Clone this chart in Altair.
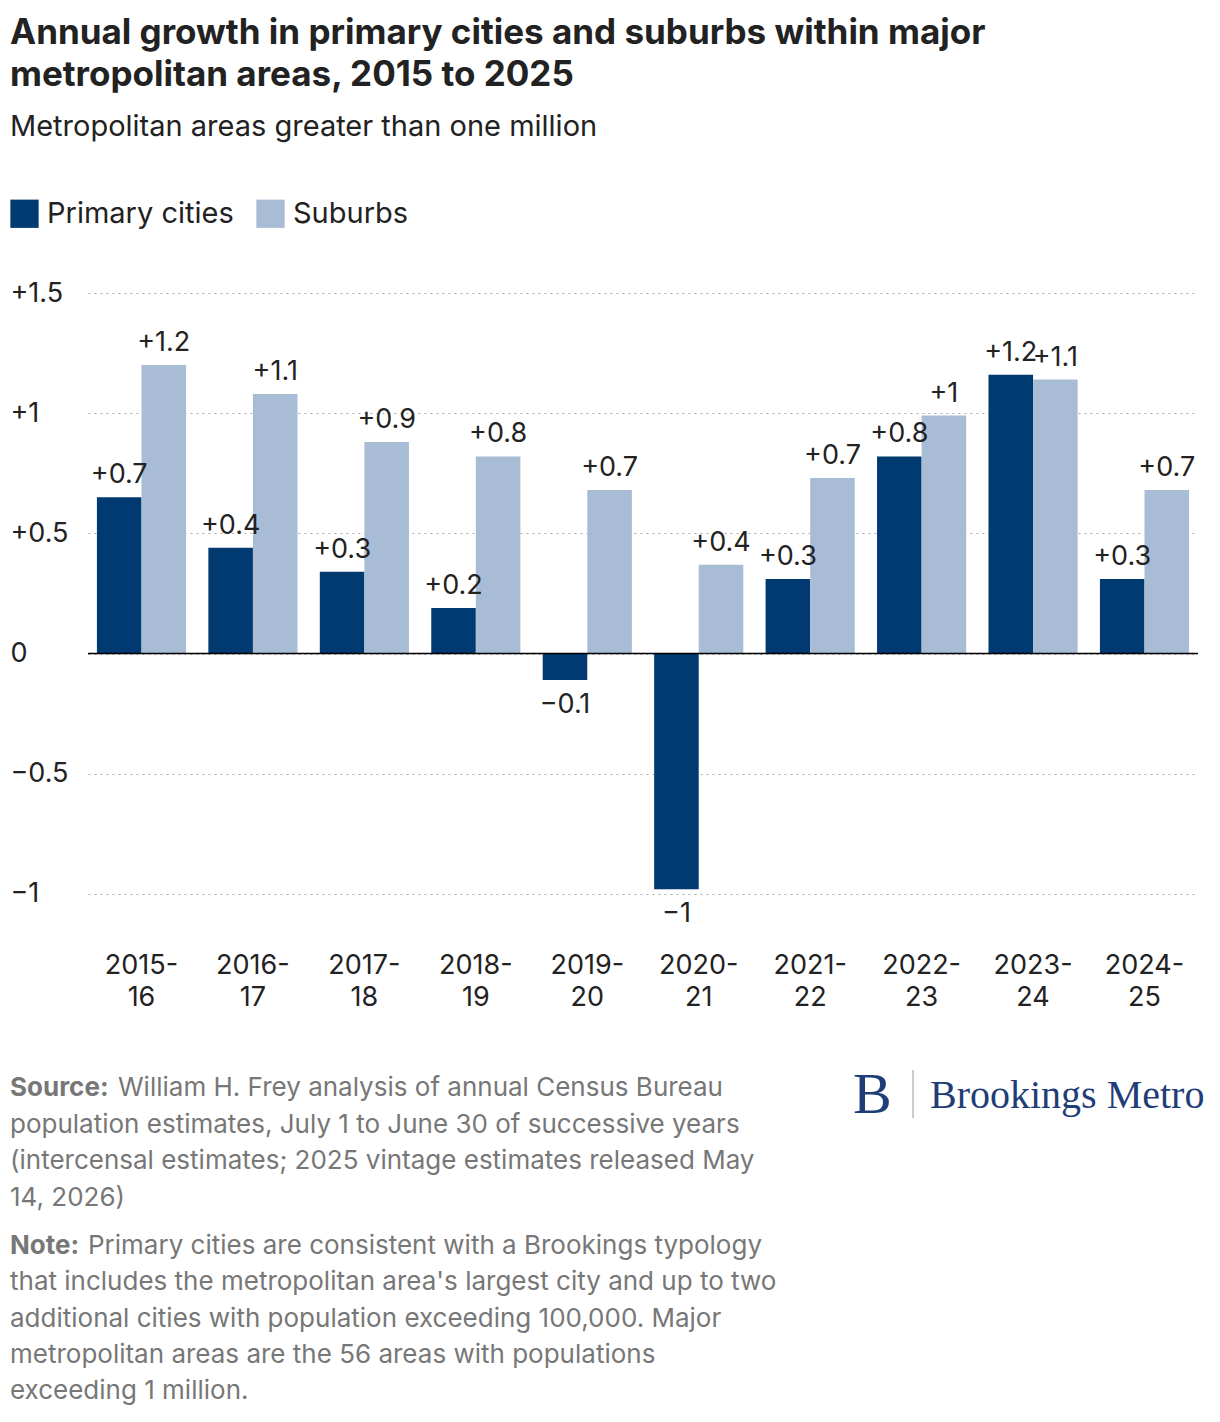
import altair as alt
import pandas as pd

periods = ["2015-16", "2016-17", "2017-18", "2018-19", "2019-20",
           "2020-21", "2021-22", "2022-23", "2023-24", "2024-25"]
primary = [0.65, 0.44, 0.34, 0.19, -0.11, -0.98, 0.31, 0.82, 1.16, 0.31]
suburbs = [1.20, 1.08, 0.88, 0.82, 0.68, 0.37, 0.73, 0.99, 1.14, 0.68]
series = ["Primary cities", "Suburbs"]
colors = ["#003a70", "#a9bcd6"]

rows = []
for p, a, b in zip(periods, primary, suburbs):
    for s, v in zip(series, [a, b]):
        r = round(v, 1)
        lab = ("+" if r > 0 else "") + (f"{r:g}".replace("-", "−"))
        rows.append({"period": p, "series": s, "value": v, "label": lab})
df = pd.DataFrame(rows)

FONT = "Inter"
W, H = 1110, 637

xenc = alt.X("period:N", sort=periods, title=None,
             axis=alt.Axis(labelExpr="[split(datum.label, '-')[0] + '-', split(datum.label, '-')[1]]",
                           labelLineHeight=32, ticks=False, domain=False, labelAngle=0,
                           labelFontSize=27, labelColor="#222", labelPadding=22,
                           labelBaseline="top"),
             scale=alt.Scale(paddingInner=0.2, paddingOuter=0.08))
yscale = alt.Scale(domain=[-1.15, 1.5], nice=False)

base = alt.Chart(df).encode(
    x=xenc,
    xOffset=alt.XOffset("series:N", sort=series),
)
bars = base.mark_bar().encode(
    y=alt.Y("value:Q", scale=yscale, title=None,
            axis=alt.Axis(values=[-1, -0.5, 0, 0.5, 1, 1.5],
                          labelExpr="datum.value > 0 ? format(datum.value, '+~g') : replace(format(datum.value, '~g'), '-', '−')",
                          grid=True, gridDash=[2, 4], gridColor="#aaa", ticks=False, domain=False,
                          labelFontSize=27, labelColor="#222", labelAlign="left", labelPadding=78)),
    color=alt.Color("series:N", sort=series, scale=alt.Scale(domain=series, range=colors),
                    legend=alt.Legend(orient="none", legendX=-78, legendY=-94,
                                      direction="horizontal", title=None,
                                      symbolType="square", symbolSize=800, symbolStrokeWidth=0,
                                      labelFontSize=29, labelColor="#222", labelLimit=300,
                                      columnPadding=22, labelOffset=8)),
)
pos_labels = base.transform_filter("datum.value >= 0").mark_text(
    baseline="bottom", dy=-8, fontSize=27, color="#222", font=FONT
).encode(y=alt.Y("value:Q", scale=yscale), text="label:N")
neg_labels = base.transform_filter("datum.value < 0").mark_text(
    baseline="top", dy=12, fontSize=27, color="#222", font=FONT
).encode(y=alt.Y("value:Q", scale=yscale), text="label:N")
zero = alt.Chart(pd.DataFrame({"z": [0]})).mark_rule(color="#000", strokeWidth=1.5).encode(
    y=alt.Y("z:Q", scale=yscale))

# footer text, positioned in pixels relative to the plot area
src_lines = ["William H. Frey analysis of annual Census Bureau",
             "population estimates, July 1 to June 30 of successive years",
             "(intercensal estimates; 2025 vintage estimates released May",
             "14, 2026)"]
note_lines = ["Primary cities are consistent with a Brookings typology",
              "that includes the metropolitan area's largest city and up to two",
              "additional cities with population exceeding 100,000. Major",
              "metropolitan areas are the 56 areas with populations",
              "exceeding 1 million."]
top = 795
foot = []
for i, t in enumerate(src_lines):
    foot.append({"t": t, "y": top + 36.5 * i, "x": -78 + (108 if i == 0 else 0)})
for i, t in enumerate(note_lines):
    foot.append({"t": t, "y": top + 158 + 36.3 * i, "x": -78 + (78 if i == 0 else 0)})
fdf = pd.DataFrame(foot)
bold = pd.DataFrame({"t": ["Source:", "Note:"], "y": [top, top + 158], "x": [-78, -78]})

ft = alt.Chart(fdf).mark_text(align="left", baseline="middle", fontSize=26, color="#777", font=FONT).encode(
    x=alt.X("x:Q", scale=None), y=alt.Y("y:Q", scale=None), text="t:N")
fb = alt.Chart(bold).mark_text(align="left", baseline="middle", fontSize=26, color="#777",
                               fontWeight="bold", font=FONT).encode(
    x=alt.X("x:Q", scale=None), y=alt.Y("y:Q", scale=None), text="t:N")
logo = pd.DataFrame({"t": ["B", "Brookings Metro"], "x": [765, 842], "y": [top + 8, top + 8], "s": [58, 40]})
fl = alt.Chart(logo).mark_text(align="left", baseline="middle", color="#1f3e78", font="Liberation Serif").encode(
    x=alt.X("x:Q", scale=None), y=alt.Y("y:Q", scale=None), text="t:N",
    size=alt.Size("s:Q", scale=None, legend=None))
sep = alt.Chart(pd.DataFrame({"x": [825], "y": [top - 18], "y2": [top + 30]})).mark_rule(color="#999").encode(
    x=alt.X("x:Q", scale=None), y=alt.Y("y:Q", scale=None), y2="y2:Q")

chart = (bars + zero + pos_labels + neg_labels + ft + fb + fl + sep).properties(
    width=W, height=H,
    title=alt.TitleParams(
        ["Annual growth in primary cities and suburbs within major",
         "metropolitan areas, 2015 to 2025"],
        subtitle="Metropolitan areas greater than one million",
        anchor="start", fontSize=35, fontWeight="bold", color="#222", font=FONT, lineHeight=42,
        subtitleFontSize=29, subtitleColor="#222", subtitleFont=FONT, subtitlePadding=20,
        offset=57,
    ),
).configure(
    font=FONT, padding={"left": 2, "top": 8, "right": 2, "bottom": 2}
).configure_legend(labelFont=FONT).configure_axis(labelFont=FONT).configure_view(stroke=None)
chart.save("out.html", embed_options={"renderer": "svg", "actions": False})
